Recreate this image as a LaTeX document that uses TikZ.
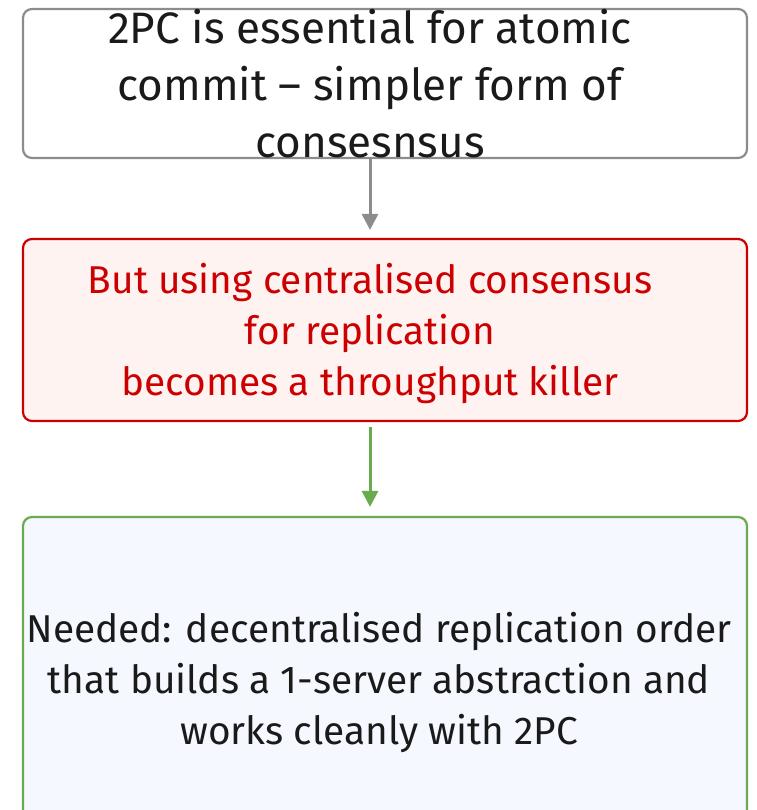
\documentclass[tikz,border=0pt]{standalone}
\usepackage{fontspec}
\setmainfont{Fira Sans}
\usetikzlibrary{arrows.meta}
\definecolor{boxgray}{HTML}{8C8C8C}
\definecolor{alertred}{HTML}{CC0000}
\definecolor{alertfill}{HTML}{FFF3F1}
\definecolor{goodgreen}{HTML}{6AAB4F}
\definecolor{goodfill}{HTML}{F5F8FE}
\definecolor{inkblack}{HTML}{1A1A1A}
\tikzset{
  panel/.style={draw, line width=2.2pt, rounded corners=9pt, minimum width=724pt, inner sep=0pt},
  bigtext/.style={align=center, inner sep=0pt, font=\fontsize{44}{57}\selectfont},
  bodytext/.style={align=center, inner sep=0pt, font=\fontsize{38.8}{51}\selectfont},
  flow/.style={line width=3pt, -{Triangle[length=16pt,width=16pt]}},
}
\begin{document}
\begin{tikzpicture}[x=1pt,y=-1pt]
  \useasboundingbox (0,0) rectangle (756,810);
  \begin{scope}
    \clip (0,0) rectangle (756,810);
    % three stacked panels
    \node[panel, draw=boxgray, fill=white, minimum height=149pt] (premise) at (385,83.5) {};
    \node[panel, draw=alertred, fill=alertfill, minimum height=182pt] (problem) at (385,330) {};
    \node[panel, draw=goodgreen, fill=goodfill, minimum height=324pt] (need) at (385,679) {};
    % panel texts
    \node[bigtext, text=inkblack] (premisetxt) at (370,84)
      {2PC is essential for atomic\\commit -- simpler form of\\consesnsus};
    \node[bodytext, text=alertred] (problemtxt) at (370,333)
      {But using centralised consensus\\for replication\\becomes a throughput killer};
    \node[bodytext, text=inkblack] (needtxt) at (379,682)
      {Needed: decentralised replication order\\that builds a 1-server abstraction and\\works cleanly with 2PC};
    % connectors
    \draw[flow, draw=boxgray, fill=boxgray] (premise.south -| 370,0) -- ([yshift=8pt]problem.north -| 370,0);
    \draw[flow, draw=goodgreen, fill=goodgreen] ([yshift=-5pt]problem.south -| 370,0) -- ([yshift=9pt]need.north -| 370,0);
  \end{scope}
\end{tikzpicture}
\end{document}
